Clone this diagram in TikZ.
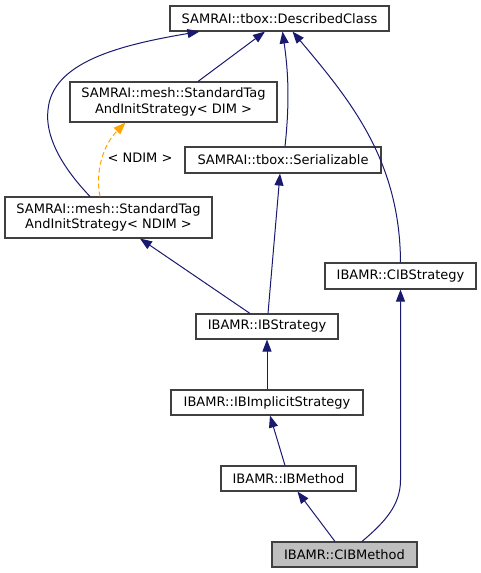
\documentclass[tikz,border=0pt]{standalone}
\usepackage{fontspec}
\setmainfont{DejaVu Sans}
\usetikzlibrary{arrows.meta}
\definecolor{edgeblue}{HTML}{191970}
\definecolor{boxline}{HTML}{404040}
\definecolor{tmplorange}{HTML}{FFA500}
\definecolor{curfill}{HTML}{BFBFBF}
\begin{document}
\begin{tikzpicture}[x=1pt,y=-1pt,
  cls/.style={draw=boxline, fill=white, line width=1.1pt, inner sep=0pt,
    font=\fontsize{13}{15.5}\selectfont, align=center},
  inh/.style={draw=edgeblue, line width=1pt, -{Triangle[length=12pt,width=9pt]}},
  tmpl/.style={draw=tmplorange, line width=1pt, dashed, dash pattern=on 5pt off 3pt,
    -{Triangle[length=12pt,width=9pt]}}]
\useasboundingbox (0,0) rectangle (481,573);
\node[cls, minimum width=219pt, minimum height=25pt] (dc) at (279.5,18.5) {SAMRAI::tbox::DescribedClass};
\node[cls, minimum width=207pt, minimum height=40pt] (dim) at (173.5,102) {SAMRAI::mesh::StandardTag\\AndInitStrategy< DIM >};
\node[cls, minimum width=196pt, minimum height=26pt] (ser) at (283,160) {SAMRAI::tbox::Serializable};
\node[cls, minimum width=207pt, minimum height=41pt] (ndim) at (108.5,217.5) {SAMRAI::mesh::StandardTag\\AndInitStrategy< NDIM >};
\node[cls, minimum width=151pt, minimum height=26pt] (cibs) at (400.5,276) {IBAMR::CIBStrategy};
\node[cls, minimum width=142pt, minimum height=25pt] (ibs) at (267,326.5) {IBAMR::IBStrategy};
\node[cls, minimum width=192pt, minimum height=25pt] (ibi) at (267,402.5) {IBAMR::IBImplicitStrategy};
\node[cls, minimum width=135pt, minimum height=25pt] (ibm) at (288.5,478.5) {IBAMR::IBMethod};
\node[cls, minimum width=145pt, minimum height=25pt, fill=curfill] (cibm) at (344.5,554.5) {IBAMR::CIBMethod};

% edges
\draw[inh] ([xshift=24.5pt]dim.north) -- ([xshift=-14.5pt]dc.south);
\draw[inh] ([xshift=-18.5pt]ndim.north) .. controls (60,165) and (45,135) .. (48,110)
   .. controls (52,62) and (120,45) .. ([xshift=-80pt]dc.south);
\draw[inh] ([xshift=2pt]ser.north) .. controls (290,100) and (288,70) .. ([xshift=3pt]dc.south);
\draw[inh] (cibs.north) .. controls (400,160) and (350,100) .. ([xshift=13pt]dc.south);
\draw[tmpl] ([xshift=-8.5pt]ndim.north) .. controls (95,172) and (103,145) .. ([xshift=-48pt]dim.south);
\node[font=\fontsize{13}{15.5}\selectfont, inner sep=0pt] (lbl) at (140,158) {< NDIM >};
\draw[inh] ([xshift=-17pt]ibs.north) -- ([xshift=31.5pt]ndim.south);
\draw[inh] ([xshift=1pt]ibs.north) -- ([xshift=-3pt]ser.south);
\draw[inh] (ibi.north) -- (ibs.south);
\draw[inh] ([xshift=-3.5pt]ibm.north) -- ([xshift=3pt]ibi.south);
\draw[inh] ([xshift=-9.5pt]cibm.north) -- ([xshift=9pt]ibm.south);
\draw[inh] ([xshift=17.5pt]cibm.north) .. controls (385,522) and (400.5,505) .. (400.5,480) -- (cibs.south);
\end{tikzpicture}
\end{document}
